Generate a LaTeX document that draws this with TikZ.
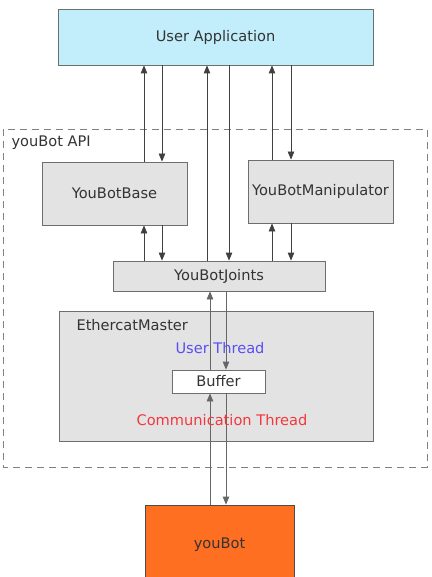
\documentclass[tikz,border=0pt]{standalone}
\usepackage{fontspec}
\setmainfont{DejaVu Sans}
\usetikzlibrary{arrows.meta}
\definecolor{uacol}{HTML}{C2EEFB}
\definecolor{boxgray}{HTML}{E3E3E3}
\definecolor{bordgray}{HTML}{6E6E6E}
\definecolor{botorange}{HTML}{FF6F22}
\definecolor{utblue}{HTML}{5A4FF0}
\definecolor{ctred}{HTML}{F2383E}
\begin{document}
\begin{tikzpicture}[x=1pt,y=-1pt,
  lbl/.style={font=\fontsize{14.6}{16}\selectfont},
  box/.style={draw=bordgray,line width=0.8pt,inner sep=0pt,lbl,text=black!80},
  arr/.style={draw=black!75,line width=0.8pt,-{Triangle[length=8pt,width=6.5pt]}},
  garr/.style={draw=black!60,line width=0.8pt,-{Triangle[length=8pt,width=6.5pt]}}]
\useasboundingbox (0,0) rectangle (431,577);
\node[box,fill=uacol,minimum width=315,minimum height=56] (ua) at (215.5,37) {User Application};
\draw[draw=black!50,dash pattern=on 7pt off 5pt,line width=0.7pt] (3,129) rectangle (427,467);
\node[anchor=west,lbl,text=black!80] (api) at (8,143) {youBot API};
\node[box,fill=boxgray,minimum width=145,minimum height=63] (base) at (114.5,193.5) {YouBotBase};
\node[box,fill=boxgray,minimum width=145,minimum height=63] (man) at (320.5,191.5) {YouBotManipulator};
\node[box,fill=boxgray,minimum width=212,minimum height=30] (jo) at (219,276) {YouBotJoints};
\node[box,fill=boxgray,minimum width=314,minimum height=130] (em) at (216,376) {};
\node[anchor=west,lbl,text=black!80] (eml) at (73,325) {EthercatMaster};
\node[box,fill=white,minimum width=93,minimum height=23] (buf) at (218.5,381.5) {Buffer};
\node[box,fill=botorange,minimum width=149,minimum height=80,draw=black!70] (bot) at (219.5,545) {youBot};
% arrows top
\draw[arr] (base.north -| 144,0) -- (ua.south -| 144,0);
\draw[arr] (ua.south -| 162,0) -- (base.north -| 162,0);
\draw[arr] (jo.north -| 207,0) -- (ua.south -| 207,0);
\draw[arr] (ua.south -| 229,0) -- (jo.north -| 229,0);
\draw[arr] (man.north -| 272,0) -- (ua.south -| 272,0);
\draw[arr] (ua.south -| 291,0) -- (man.north -| 291,0);
\draw[arr] (jo.north -| 144,0) -- (base.south -| 144,0);
\draw[arr] (base.south -| 162,0) -- (jo.north -| 162,0);
\draw[arr] (jo.north -| 272,0) -- (man.south -| 272,0);
\draw[arr] (man.south -| 291,0) -- (jo.north -| 291,0);
% lower arrows
\draw[garr] (buf.north -| 210,0) -- (jo.south -| 210,0);
\draw[garr] (jo.south -| 226,0) -- (buf.north -| 226,0);
\draw[garr] (bot.north -| 210,0) -- (buf.south -| 210,0);
\draw[garr] (buf.south -| 226,0) -- (bot.north -| 226,0);
\node[lbl,text=utblue] (ut) at (220,348) {User Thread};
\node[lbl,text=ctred] (ct) at (222,420) {Communication Thread};
\end{tikzpicture}
\end{document}
